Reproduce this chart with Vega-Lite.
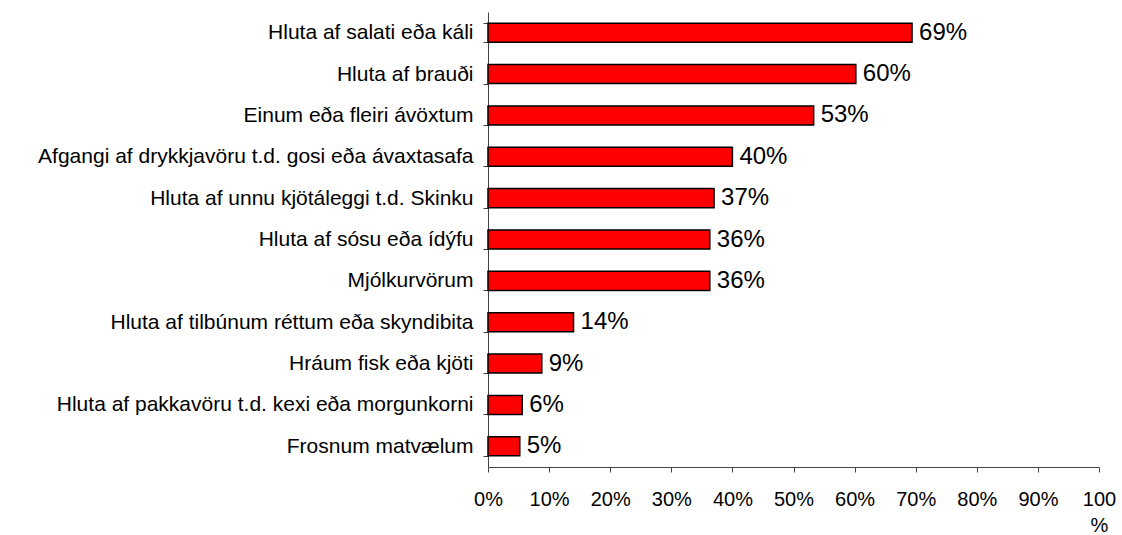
{
  "$schema": "https://vega.github.io/schema/vega-lite/v6.json",
  "autosize": "none",
  "padding": {"left": 488, "top": 12, "right": 23, "bottom": 68},
  "width": 611,
  "height": 455,
  "background": "white",
  "config": {
    "view": {"stroke": null},
    "font": "Liberation Sans",
    "axis": {"labelFont": "Liberation Sans", "labelColor": "black", "domainColor": "#444444", "tickColor": "#444444", "grid": false, "title": null}
  },
  "data": {
    "values": [
      {"item": "Hluta af salati eða káli", "value": 0.694},
      {"item": "Hluta af brauði", "value": 0.602},
      {"item": "Einum eða fleiri ávöxtum", "value": 0.533},
      {"item": "Afgangi af drykkjavöru t.d. gosi eða ávaxtasafa", "value": 0.40},
      {"item": "Hluta af unnu kjötáleggi t.d. Skinku", "value": 0.37},
      {"item": "Hluta af sósu eða ídýfu", "value": 0.363},
      {"item": "Mjólkurvörum", "value": 0.363},
      {"item": "Hluta af tilbúnum réttum eða skyndibita", "value": 0.14},
      {"item": "Hráum fisk eða kjöti", "value": 0.088},
      {"item": "Hluta af pakkavöru t.d. kexi eða morgunkorni", "value": 0.056},
      {"item": "Frosnum matvælum", "value": 0.052}
    ]
  },
  "encoding": {
    "y": {
      "field": "item", "type": "nominal", "sort": null,
      "scale": {"paddingInner": 0.54, "paddingOuter": 0.27},
      "axis": {"labelFontSize": 21, "tickBand": "extent", "tickSize": 5, "labelPadding": 10, "labelLimit": 0}
    },
    "x": {
      "field": "value", "type": "quantitative",
      "scale": {"domain": [0, 1], "nice": false},
      "axis": {"values": [0,0.1,0.2,0.3,0.4,0.5,0.6,0.7,0.8,0.9,1], "labelExpr": "datum.value == 1 ? ['100', '%'] : format(datum.value, '.0%')", "labelFontSize": 20, "tickSize": 5, "labelPadding": 17, "labelLineHeight": 26, "labelFlush": false, "labelOverlap": false}
    }
  },
  "layer": [
    {"mark": {"type": "bar", "fill": "#FF0000", "stroke": "black", "strokeWidth": 1.5}},
    {"mark": {"type": "text", "align": "left", "baseline": "middle", "dx": 7, "fontSize": 24, "font": "Liberation Sans"},
     "encoding": {"text": {"field": "value", "type": "quantitative", "format": ".0%"}}}
  ]
}
